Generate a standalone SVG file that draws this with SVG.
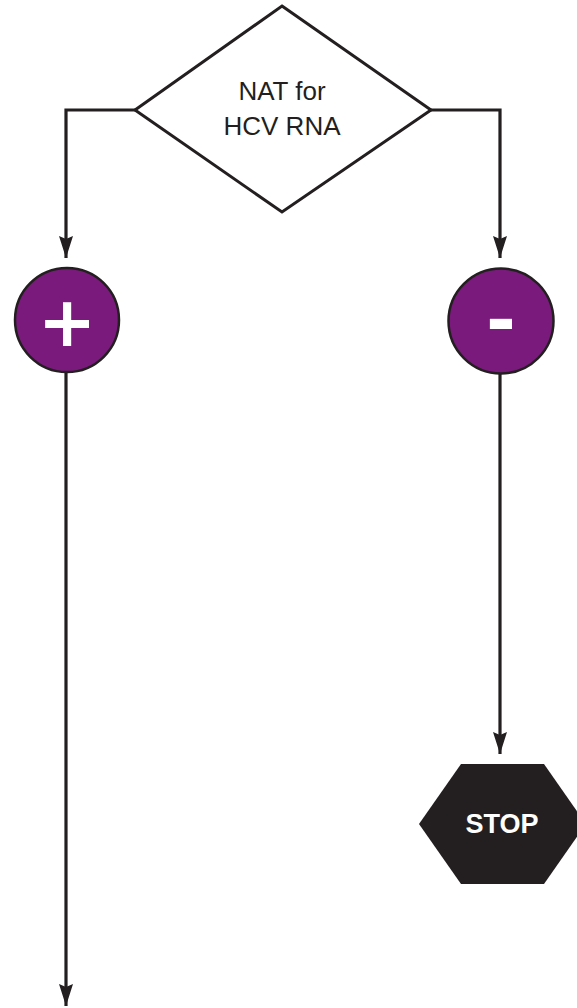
<svg xmlns="http://www.w3.org/2000/svg" width="577" height="1008" viewBox="0 0 577 1008">
  <style>
    .conn { fill: none; stroke: #231f20; stroke-width: 3.2; }
    .dec { fill: #ffffff; stroke: #231f20; stroke-width: 3; stroke-linejoin: miter; }
    .res { fill: #7a1a7c; stroke: #231f20; stroke-width: 2.5; }
    .sym { font-family: "DejaVu Sans", sans-serif; font-weight: bold; fill: #ffffff; text-anchor: middle; }
    .lbl { font-family: "Liberation Sans", Arial, sans-serif; font-size: 26px; fill: #231f20; text-anchor: middle; }
    .stop { fill: #231f20; }
    .stoptxt { font-family: "Liberation Sans", Arial, sans-serif; font-weight: bold; font-size: 27px; fill: #ffffff; text-anchor: middle; }
  </style>
  <defs>
    <marker id="arr" markerUnits="userSpaceOnUse" markerWidth="26" markerHeight="18" viewBox="0 0 26 18" refX="24" refY="9" orient="auto">
      <path d="M2,2 L5,9 L2,16 L24,9 Z" fill="#231f20"/>
    </marker>
  </defs>
  <rect width="577" height="1008" fill="#ffffff"/>
  <g id="connectors">
    <path class="conn" d="M135,110 H66 V258" marker-end="url(#arr)"/>
    <path class="conn" d="M431,110 H500 V258" marker-end="url(#arr)"/>
    <path class="conn" d="M66,372 V1006" marker-end="url(#arr)"/>
    <path class="conn" d="M500,374 V754" marker-end="url(#arr)"/>
  </g>
  <g id="nat">
    <polygon class="dec" points="282,6 431,110 282,212 135,110"/>
    <text class="lbl" x="282" y="100">NAT for</text>
    <text class="lbl" x="282" y="135">HCV RNA</text>
  </g>
  <g id="positive">
    <circle class="res" cx="67" cy="320" r="52"/>
    <text class="sym" x="67" y="346" font-size="70">+</text>
  </g>
  <g id="negative">
    <circle class="res" cx="501" cy="321" r="52.5"/>
    <text class="sym" x="501" y="344" font-size="72">-</text>
  </g>
  <g id="stop">
    <polygon class="stop" points="419,824 461,764 544,764 586,824 544,884 461,884"/>
    <text class="stoptxt" x="502" y="833">STOP</text>
  </g>
</svg>
